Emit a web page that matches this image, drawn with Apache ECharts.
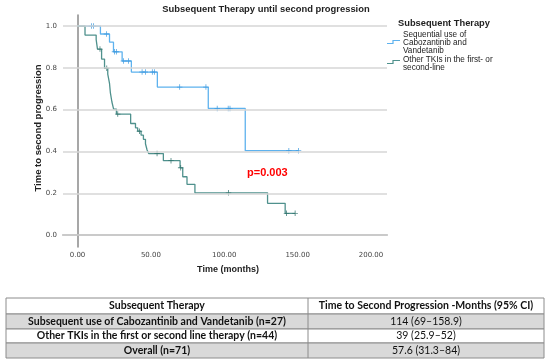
<!DOCTYPE html>
<html>
<head>
<meta charset="utf-8">
<script src="https://cdn.jsdelivr.net/npm/echarts/dist/echarts.min.js"></script>
<style>
html,body{margin:0;padding:0;background:#fff;}
#chart{width:550px;height:363px;}
</style>
</head>
<body>
<div id="chart"></div>
<script>
// ---- data ----
const chartTitle = 'Subsequent Therapy until second progression';
const legendTitle = 'Subsequent Therapy';
const seriesNames = ['Sequential use of\nCabozantinib and\nVandetanib', 'Other TKIs in the first- or\nsecond-line'];
const xTicks = [0, 50, 100, 150, 200];
const yTicks = [0, 0.2, 0.4, 0.6, 0.8, 1.0];
const xTitle = 'Time (months)';
const yTitle = 'Time to second progression';
const pValue = 'p=0.003';

const blueTimes = [0, 15.6, 21.8, 24.5, 30.4, 36.7, 54.4, 89.1, 114.3, 150.6];
const blueSurv  = [1.0, 0.962, 0.923, 0.877, 0.833, 0.780, 0.708, 0.606, 0.404, 0.404];
const blueCensorTimes = [9.5, 10.9, 19.7, 25.2, 26.5, 31.3, 34.7, 44.0, 46.3, 51.0, 52.4, 69.6, 87.5, 95.2, 102.7, 103.9, 144.0, 150.6];
const blueCensorSurv  = [1.0, 1.0, 0.962, 0.877, 0.877, 0.833, 0.833, 0.780, 0.780, 0.780, 0.780, 0.708, 0.708, 0.606, 0.606, 0.606, 0.404, 0.404];

const greenTimes = [0, 5.1, 12.7, 13.6, 16.4, 18.4, 20.6, 21.8, 22.4, 23.4, 24.6, 26.5, 36.2, 39.5, 41.0, 43.3, 44.9, 46.3, 47.4, 48.5, 58.5, 69.9, 71.7, 74.6, 80.0, 129.5, 141.5, 148.3];
const greenSurv  = [1.0, 0.957, 0.935, 0.890, 0.842, 0.798, 0.770, 0.726, 0.680, 0.638, 0.603, 0.579, 0.534, 0.513, 0.497, 0.478, 0.458, 0.437, 0.407, 0.390, 0.356, 0.322, 0.279, 0.243, 0.202, 0.152, 0.104, 0.104];
const greenCensorTimes = [15.3, 19.9, 27.4, 42.2, 54.2, 63.7, 70.3, 102.9, 142.4, 148.3];
const greenCensorSurv  = [0.890, 0.798, 0.579, 0.497, 0.390, 0.356, 0.322, 0.202, 0.104, 0.104];

const tableHeader = ['Subsequent Therapy', 'Time to Second Progression -Months (95% CI)'];
const tableGroups = ['Subsequent use of Cabozantinib and Vandetanib (n=27)', 'Other TKIs in the first or second line therapy (n=44)', 'Overall (n=71)'];
const tableValues = ['114 (69\u2013158.9)', '39 (25.9\u201352)', '57.6 (31.3\u201384)'];

// ---- style ----
const BLUE = '#5eb2ee', BLUE_D = '#3c9ae0';
const GREEN = '#4f918d', GREEN_D = '#2e6f69';
const plusPath = 'path://M0,4.2h10v1.6h-10z M4.2,0h1.6v10h-1.6z';

const zip = (a, b) => a.map((v, i) => [v, b[i]]);

const chart = echarts.init(document.getElementById('chart'), null, {renderer: 'canvas'});

// table graphics
const rowY = [298, 314, 329, 343, 358];
const colX = [6, 308, 544];
const tableGraphics = [];
const rowFills = ['#ffffff', '#d9d9d9', '#ffffff', '#d9d9d9'];
for (let r = 0; r < 4; r++) {
  tableGraphics.push({type: 'rect', shape: {x: colX[0], y: rowY[r], width: colX[2] - colX[0], height: rowY[r + 1] - rowY[r]},
    style: {fill: rowFills[r], stroke: '#8c8c8c', lineWidth: 1}});
  const c1 = r === 0 ? tableHeader[0] : tableGroups[r - 1];
  const c2 = r === 0 ? tableHeader[1] : tableValues[r - 1];
  const cy = (rowY[r] + rowY[r + 1]) / 2;
  tableGraphics.push({type: 'text', x: (colX[0] + colX[1]) / 2, y: cy,
    style: {text: c1, font: 'bold 10.5px Lato', fill: '#111', textAlign: 'center', textVerticalAlign: 'middle'}});
  tableGraphics.push({type: 'text', x: (colX[1] + colX[2]) / 2, y: cy,
    style: {text: c2, font: (r === 0 ? 'bold ' : '') + '10.5px Lato', fill: '#111', textAlign: 'center', textVerticalAlign: 'middle'}});
}
tableGraphics.push({type: 'line', shape: {x1: colX[1], y1: rowY[0], x2: colX[1], y2: rowY[4]}, style: {stroke: '#8c8c8c', lineWidth: 1}});

const option = {
  backgroundColor: '#ffffff',
  animation: false,
  grid: {left: 63, top: 15, width: 324, height: 232, containLabel: false},
  xAxis: {
    type: 'value', min: -9.9, max: 210.9,
    axisLine: {show: true, lineStyle: {color: '#8a8a8a', width: 1.5}},
    axisTick: {show: false, customValues: xTicks},
    splitLine: {show: false},
    axisLabel: {customValues: xTicks, formatter: v => v.toFixed(2), color: '#444', fontSize: 7, fontFamily: 'DejaVu Sans', margin: 5}
  },
  yAxis: {
    type: 'value', min: -0.057, max: 1.053,
    axisLine: {show: true, lineStyle: {color: '#8a8a8a', width: 1.5}},
    axisTick: {show: false, customValues: yTicks},
    splitLine: {show: false},
    axisLabel: {customValues: yTicks, formatter: v => v.toFixed(1), color: '#444', fontSize: 7, fontFamily: 'DejaVu Sans', margin: 6}
  },
  series: [
    {
      type: 'line', data: [], z: 1, silent: true,
      markLine: {
        silent: true, symbol: 'none', label: {show: false},
        lineStyle: {color: '#d6d6d6', width: 1.5, type: 'solid'},
        data: yTicks.map(v => ({yAxis: v}))
      }
    },
    {name: seriesNames[0], type: 'line', step: 'end', data: zip(blueTimes, blueSurv), symbol: 'none', z: 3,
      lineStyle: {color: BLUE, width: 1.3}},
    {name: seriesNames[1], type: 'line', step: 'end', data: zip(greenTimes, greenSurv), symbol: 'none', z: 3,
      lineStyle: {color: GREEN, width: 1.3}},
    {type: 'scatter', data: zip(blueCensorTimes, blueCensorSurv), symbol: plusPath, symbolSize: 5.5, z: 4,
      itemStyle: {color: BLUE_D}},
    {type: 'scatter', data: zip(greenCensorTimes, greenCensorSurv), symbol: plusPath, symbolSize: 5.5, z: 4,
      itemStyle: {color: GREEN_D}}
  ],
  graphic: [
    {type: 'text', x: 266, y: 9, style: {text: chartTitle, font: 'bold 9.4px "Liberation Sans"', fill: '#222', textAlign: 'center', textVerticalAlign: 'middle'}},
    {type: 'text', x: 398, y: 23, style: {text: legendTitle, font: 'bold 9.3px "Liberation Sans"', fill: '#222', textAlign: 'left', textVerticalAlign: 'middle'}},
    {type: 'polyline', shape: {points: [[387, 43.5], [393, 43.5], [393, 40.5], [400, 40.5]]}, style: {stroke: BLUE, lineWidth: 1.2, fill: null}},
    {type: 'text', x: 403, y: 43, style: {text: seriesNames[0], font: '8.2px "Liberation Sans"', lineHeight: 8.2, fill: '#222', textAlign: 'left', textVerticalAlign: 'middle'}},
    {type: 'polyline', shape: {points: [[387, 63.5], [393, 63.5], [393, 60.5], [400, 60.5]]}, style: {stroke: GREEN, lineWidth: 1.2, fill: null}},
    {type: 'text', x: 403, y: 64, style: {text: seriesNames[1], font: '8.2px "Liberation Sans"', lineHeight: 8.2, fill: '#222', textAlign: 'left', textVerticalAlign: 'middle'}},
    {type: 'text', x: 247, y: 173, style: {text: pValue, font: 'bold 11px "Liberation Sans"', fill: '#ff0000', textAlign: 'left', textVerticalAlign: 'middle'}},
    {type: 'text', x: 228, y: 270, style: {text: xTitle, font: 'bold 9px "Liberation Sans"', fill: '#222', textAlign: 'center', textVerticalAlign: 'middle'}},
    {type: 'text', x: 38, y: 128, rotation: Math.PI / 2, style: {text: yTitle, font: 'bold 9.5px "Liberation Sans"', fill: '#222', textAlign: 'center', textVerticalAlign: 'middle'}}
  ].concat(tableGraphics)
};
chart.setOption(option);
</script>
</body>
</html>
